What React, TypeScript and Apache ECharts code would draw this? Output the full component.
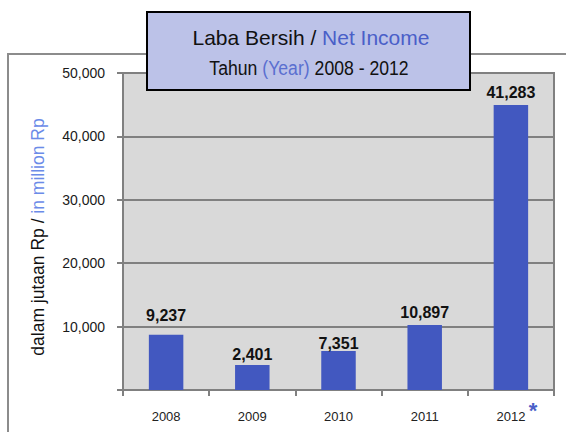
import React, { useEffect, useRef } from "react";
import * as echarts from "echarts";

const years = ["2008", "2009", "2010", "2011", "2012"];
// values printed above the bars (million Rp)
const netIncomeLabels = [9237, 2401, 7351, 10897, 41283];
// bar heights as drawn in the picture (million Rp)
const barHeights = [8700, 3950, 6150, 10250, 44950];
const yTicks = [0, 10000, 20000, 30000, 40000, 50000];

const ARIAL = "'Liberation Sans', Arial, sans-serif";

export default function App() {
  const ref = useRef<HTMLDivElement>(null);
  useEffect(() => {
    if (!ref.current) return;
    const chart = echarts.init(ref.current, undefined, { renderer: "svg" });
    const labelGap = [11, 2, 0, 5, 5];
    const fmt = (v: number) => v.toLocaleString("en-US");
    chart.setOption({
      animation: false,
      backgroundColor: "#ffffff",
      grid: {
        left: 123,
        top: 73,
        right: 12,
        bottom: 42,
        show: true,
        backgroundColor: "#D9D9D9",
        borderColor: "#808080",
        borderWidth: 2,
      },
      xAxis: {
        type: "category",
        data: years,
        axisLine: { show: true, lineStyle: { color: "#808080", width: 2 } },
        axisTick: { show: true, length: 6, lineStyle: { color: "#808080", width: 2 } },
        axisLabel: {
          color: "#222",
          fontFamily: ARIAL,
          fontSize: 13,
          margin: 20,
        },
      },
      yAxis: {
        type: "value",
        min: yTicks[0],
        max: yTicks[yTicks.length - 1],
        interval: yTicks[1] - yTicks[0],
        axisLine: { show: true, lineStyle: { color: "#808080", width: 2 } },
        axisTick: { show: true, length: 6, lineStyle: { color: "#808080", width: 2 } },
        splitLine: { show: true, lineStyle: { color: "#808080", width: 2 } },
        axisLabel: {
          color: "#1a1a1a",
          fontFamily: ARIAL,
          fontSize: 14,
          margin: 18,
          formatter: (v: number) => (v === 0 ? "" : fmt(v)),
        },
      },
      series: [
        {
          type: "bar",
          barWidth: "40%",
          itemStyle: { color: "#4258C0" },
          data: barHeights.map((h, i) => ({
            value: h,
            label: {
              show: true,
              position: "top",
              distance: labelGap[i],
              formatter: () => fmt(netIncomeLabels[i]),
              color: "#111",
              fontFamily: ARIAL,
              fontWeight: "bold",
              fontSize: 16,
            },
          })),
        },
      ],
      graphic: [
        {
          type: "polyline",
          z: 50,
          shape: { points: [[8, 432], [8, 54], [147, 54]] },
          style: { stroke: "#8c8c8c", lineWidth: 2, fill: "none" },
        },
        {
          type: "line",
          z: 50,
          shape: { x1: 470, y1: 54, x2: 566, y2: 54 },
          style: { stroke: "#8c8c8c", lineWidth: 2 },
        },
        {
          type: "rect",
          z: 100,
          shape: { x: 147, y: 12, width: 323, height: 78 },
          style: { fill: "#BCC2E8", stroke: "#000", lineWidth: 2 },
        },
        {
          type: "text",
          z: 101,
          x: 311,
          y: 37,
          style: {
            text: "{a|Laba Bersih / }{b|Net Income}",
            align: "center",
            verticalAlign: "middle",
            rich: {
              a: { fill: "#111", fontSize: 21, fontFamily: ARIAL },
              b: { fill: "#4A5FC8", fontSize: 21, fontFamily: ARIAL },
            },
          },
        },
        {
          type: "text",
          z: 101,
          x: 309,
          y: 67,
          scaleX: 0.84,
          style: {
            text: "{a|Tahun }{b|(Year)}{a| 2008 - 2012}",
            align: "center",
            verticalAlign: "middle",
            rich: {
              a: { fill: "#111", fontSize: 21, fontFamily: ARIAL },
              b: { fill: "#5A6FD0", fontSize: 21, fontFamily: ARIAL },
            },
          },
        },
        {
          type: "text",
          z: 101,
          x: 38,
          y: 237,
          rotation: Math.PI / 2,
          style: {
            text: "{a|dalam jutaan Rp / }{b|in million Rp}",
            align: "center",
            verticalAlign: "middle",
            rich: {
              a: { fill: "#111", fontSize: 17.5, fontFamily: ARIAL },
              b: { fill: "#6B8BE8", fontSize: 17.5, fontFamily: ARIAL },
            },
          },
        },
        {
          type: "text",
          z: 101,
          x: 533,
          y: 410,
          style: {
            text: "*",
            align: "center",
            verticalAlign: "middle",
            fill: "#4A5FC8",
            fontSize: 22,
            fontWeight: "bold",
            fontFamily: ARIAL,
          },
        },
      ],
    });
    return () => chart.dispose();
  }, []);
  return <div ref={ref} style={{ width: 566, height: 432, position: "absolute", left: 0, top: 0 }} />;
}
